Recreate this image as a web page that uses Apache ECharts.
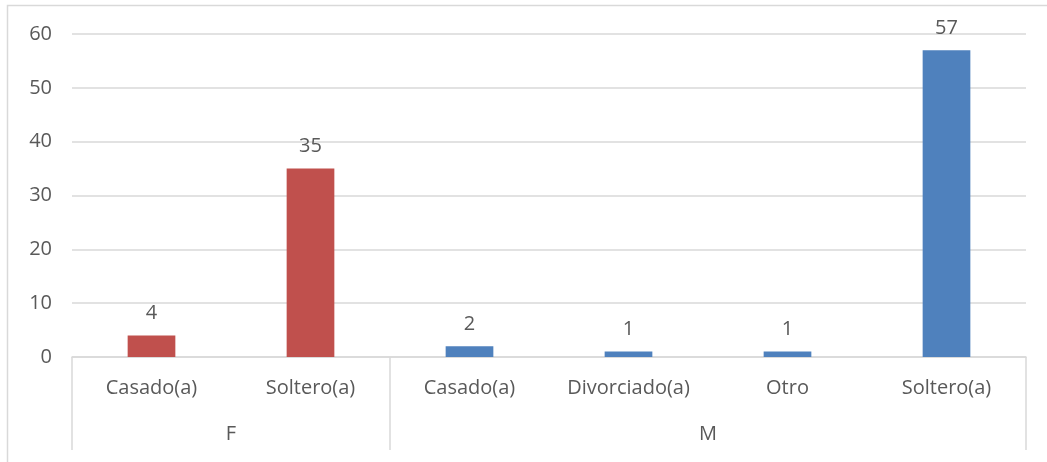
<!DOCTYPE html>
<html>
<head>
<meta charset="utf-8">
<script src="https://cdn.jsdelivr.net/npm/echarts@6/dist/echarts.min.js"></script>
<style>
  html, body { margin: 0; padding: 0; background: #fff; }
  #chart { width: 1047px; height: 462px; }
</style>
</head>
<body>
<div id="chart"></div>
<script>
// Estado civil por sexo
const groups = ['F', 'M'];
const groupSizes = [2, 4];
const categories = ['Casado(a)', 'Soltero(a)', 'Casado(a)', 'Divorciado(a)', 'Otro', 'Soltero(a)'];
const values = [4, 35, 2, 1, 1, 57];
const groupColors = ['#C0504D', '#4F81BD'];
const yTicks = [0, 10, 20, 30, 40, 50, 60];

const FONT = '"Open Sans", sans-serif';
const FS = 20;
const TEXT = '#595959';
const LINE = '#D9D9D9';

// group boundaries and centres, in category units
const bounds = [0];
groupSizes.forEach(n => bounds.push(bounds[bounds.length - 1] + n));
const centres = groups.map((g, i) => (bounds[i] + bounds[i + 1]) / 2);

const barData = [];
groupSizes.forEach((n, gi) => {
  for (let k = 0; k < n; k++) {
    barData.push({ value: values[barData.length], itemStyle: { color: groupColors[gi] } });
  }
});

const chart = echarts.init(document.getElementById('chart'));
chart.setOption({
  animation: false,
  textStyle: { fontFamily: FONT },
  graphic: [{
    type: 'rect',
    shape: { x: 7.5, y: 5.5, width: 1060, height: 480 },
    style: { fill: 'none', stroke: LINE, lineWidth: 1.5 },
    silent: true
  }],
  grid: { left: 72, right: 21, top: 34, bottom: 105 },
  xAxis: [{
    type: 'category',
    data: categories,
    axisLine: { show: true, lineStyle: { color: LINE, width: 1.5 } },
    axisTick: { show: false },
    axisLabel: { color: TEXT, fontSize: FS, fontFamily: FONT, margin: 21, interval: 0 }
  }, {
    type: 'value',
    position: 'bottom',
    min: 0,
    max: bounds[bounds.length - 1],
    axisLine: { show: false },
    splitLine: { show: false },
    axisTick: {
      show: true,
      customValues: bounds,
      length: 93,
      lineStyle: { color: LINE, width: 1.5 }
    },
    axisLabel: {
      customValues: centres,
      formatter: v => groups[centres.indexOf(v)],
      color: TEXT, fontSize: FS, fontFamily: FONT, margin: 67
    }
  }],
  yAxis: {
    type: 'value',
    min: yTicks[0],
    max: yTicks[yTicks.length - 1],
    interval: 10,
    axisLine: { show: false },
    axisTick: { show: false },
    splitLine: { lineStyle: { color: LINE, width: 1.5 } },
    axisLabel: { color: TEXT, fontSize: FS, fontFamily: FONT, margin: 20 }
  },
  series: [{
    type: 'bar',
    xAxisIndex: 0,
    barWidth: '30%',
    data: barData,
    label: { show: true, position: 'top', distance: 12, color: TEXT, fontSize: FS, fontFamily: FONT }
  }]
});
</script>
</body>
</html>
